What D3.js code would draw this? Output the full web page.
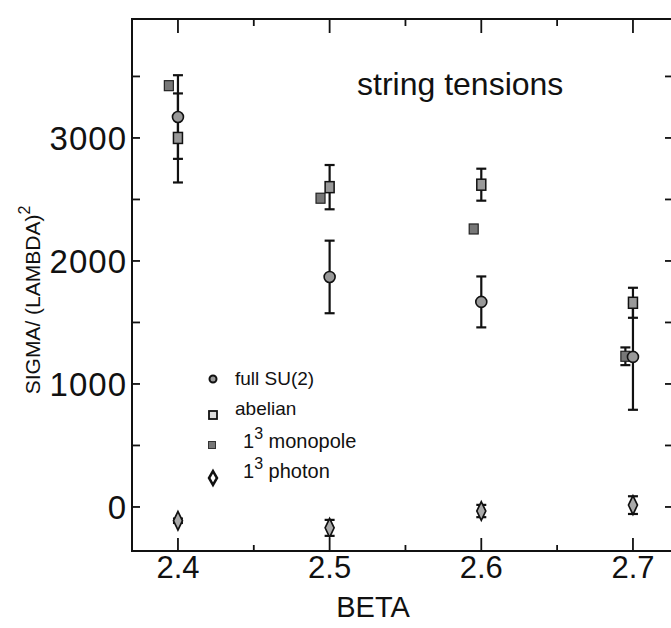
<!DOCTYPE html>
<html>
<head>
<meta charset="utf-8">
<script src="https://cdn.jsdelivr.net/npm/d3@7"></script>
<style>
  body { margin: 0; background: #fff; }
  text { font-family: "Liberation Sans", Arial, sans-serif; fill: #111; }
</style>
</head>
<body>
<svg id="chart" width="671" height="628"></svg>
<script>
// values
const betas = [2.4, 2.5, 2.6, 2.7];
const fullSU2 = [3170, 1870, 1667, 1220];
const fullSU2Err = [340, 295, 207, 430];
const abelian = [3000, 2600, 2620, 1660];
const abelianErr = [362, 180, 130, 122];
const monopoleBeta = [2.394, 2.494, 2.595, 2.695];
const monopole = [3425, 2510, 2260, 1225];
const monopoleErr = [0, 0, 0, 72];
const photon = [-112, -170, -33, 15];
const photonErr = [18, 65, 50, 72];

const xTicks = [2.4, 2.5, 2.6, 2.7];
const xMinor = [2.45, 2.55, 2.65];
const yTicks = [0, 1000, 2000, 3000];
const yMinor = [500, 1500, 2500, 3500];

const svg = d3.select("#chart");
const plotL = 132, plotR = 673, plotT = 19, plotB = 551;

const x = d3.scaleLinear().domain([2.3697, 2.7264]).range([plotL, plotR]);
const y = d3.scaleLinear().domain([-358, 3967]).range([plotB, plotT]);

// frame
svg.append("rect")
    .attr("x", plotL).attr("y", plotT)
    .attr("width", plotR - plotL).attr("height", plotB - plotT)
    .attr("fill", "none").attr("stroke", "#111").attr("stroke-width", 2);

// ticks, pointing inward on all four sides
const tickG = svg.append("g").attr("stroke", "#111").attr("stroke-width", 1.8);
xTicks.forEach(t => {
    tickG.append("line").attr("x1", x(t)).attr("x2", x(t)).attr("y1", plotB).attr("y2", plotB - 13);
    tickG.append("line").attr("x1", x(t)).attr("x2", x(t)).attr("y1", plotT).attr("y2", plotT + 14);
});
xMinor.forEach(t => {
    tickG.append("line").attr("x1", x(t)).attr("x2", x(t)).attr("y1", plotB).attr("y2", plotB - 6);
    tickG.append("line").attr("x1", x(t)).attr("x2", x(t)).attr("y1", plotT).attr("y2", plotT + 7);
});
yTicks.concat(yMinor).forEach(t => {
    tickG.append("line").attr("x1", plotL).attr("x2", plotL + 8).attr("y1", y(t)).attr("y2", y(t));
    tickG.append("line").attr("x1", plotR).attr("x2", plotR - 8).attr("y1", y(t)).attr("y2", y(t));
});

// tick labels
svg.append("g").selectAll("text")
    .data(yTicks).enter().append("text")
    .attr("x", plotL - 5).attr("y", d => y(d) + 12)
    .attr("text-anchor", "end")
    .style("font-size", "33px").style("letter-spacing", "1px")
    .text(d => d);

svg.append("g").selectAll("text")
    .data(xTicks).enter().append("text")
    .attr("x", d => x(d)).attr("y", 578)
    .attr("text-anchor", "middle")
    .style("font-size", "31px")
    .text(d => d.toFixed(1));

// axis titles
svg.append("text")
    .attr("x", 373).attr("y", 617)
    .attr("text-anchor", "middle")
    .style("font-size", "29px")
    .text("BETA");

const yt = svg.append("text")
    .attr("transform", "translate(40,300) rotate(-90)")
    .attr("text-anchor", "middle")
    .style("font-size", "21px");
yt.append("tspan").text("SIGMA/ (LAMBDA)");
yt.append("tspan").attr("dy", -10).style("font-size", "16px").text("2");

svg.append("text")
    .attr("x", 357).attr("y", 95)
    .style("font-size", "32px")
    .text("string tensions");

// error bars
const bars = svg.append("g").attr("stroke", "#111").attr("stroke-width", 2.2);
function errorBars(xs, vals, errs) {
    vals.forEach((v, i) => {
        if (!errs[i]) return;
        const cx = x(xs[i]), y1 = y(v + errs[i]), y2 = y(v - errs[i]);
        bars.append("line").attr("x1", cx).attr("x2", cx).attr("y1", y1).attr("y2", y2);
        bars.append("line").attr("x1", cx - 5).attr("x2", cx + 5).attr("y1", y1).attr("y2", y1);
        bars.append("line").attr("x1", cx - 5).attr("x2", cx + 5).attr("y1", y2).attr("y2", y2);
    });
}
errorBars(betas, fullSU2, fullSU2Err);
errorBars(betas, abelian, abelianErr);
errorBars(monopoleBeta, monopole, monopoleErr);
errorBars(betas, photon, photonErr);

const marks = svg.append("g");

// abelian squares
marks.selectAll(".ab").data(abelian).enter().append("rect")
    .attr("x", (d, i) => x(betas[i]) - 4.5).attr("y", d => y(d) - 5.5)
    .attr("width", 9).attr("height", 11)
    .attr("fill", "#999").attr("stroke", "#111").attr("stroke-width", 1.5);

// monopole squares
marks.selectAll(".mo").data(monopole).enter().append("rect")
    .attr("x", (d, i) => x(monopoleBeta[i]) - 4.5).attr("y", d => y(d) - 5)
    .attr("width", 9).attr("height", 10)
    .attr("fill", "#777").attr("stroke", "#222").attr("stroke-width", 1.2);

// full SU(2) circles
marks.selectAll(".su").data(fullSU2).enter().append("circle")
    .attr("cx", (d, i) => x(betas[i])).attr("cy", d => y(d))
    .attr("r", 5.5)
    .attr("fill", "#999").attr("stroke", "#111").attr("stroke-width", 1.6);

// photon diamonds
const diamond = d3.symbol().type(d3.symbolDiamond).size(70);
marks.selectAll(".ph").data(photon).enter().append("path")
    .attr("d", diamond)
    .attr("transform", (d, i) => `translate(${x(betas[i])},${y(d)}) scale(1,1.2)`)
    .attr("fill", "#aaa").attr("stroke", "#111").attr("stroke-width", 1.6);

// legend
const lg = svg.append("g");
lg.append("circle").attr("cx", 213).attr("cy", 379).attr("r", 3.5)
    .attr("fill", "#999").attr("stroke", "#111").attr("stroke-width", 2);
lg.append("text").attr("x", 235).attr("y", 385).style("font-size", "19px").text("full SU(2)");

lg.append("rect").attr("x", 209).attr("y", 411).attr("width", 8).attr("height", 8)
    .attr("fill", "#ddd").attr("stroke", "#111").attr("stroke-width", 1.8);
lg.append("text").attr("x", 235).attr("y", 415).style("font-size", "19px").text("abelian");

lg.append("rect").attr("x", 208.5).attr("y", 441.5).attr("width", 7).attr("height", 7)
    .attr("fill", "#777").attr("stroke", "#333").attr("stroke-width", 1);
const t3 = lg.append("text").attr("x", 243).attr("y", 448).style("font-size", "20px");
t3.append("tspan").text("1");
t3.append("tspan").attr("dy", -9).style("font-size", "16px").text("3");
t3.append("tspan").attr("dy", 9).text(" monopole");

lg.append("path").attr("d", d3.symbol().type(d3.symbolDiamond).size(55))
    .attr("transform", "translate(213,478)")
    .attr("fill", "#fff").attr("stroke", "#111").attr("stroke-width", 2.5);
const t4 = lg.append("text").attr("x", 243).attr("y", 478).style("font-size", "20px");
t4.append("tspan").text("1");
t4.append("tspan").attr("dy", -9).style("font-size", "16px").text("3");
t4.append("tspan").attr("dy", 9).text(" photon");
</script>
</body>
</html>
